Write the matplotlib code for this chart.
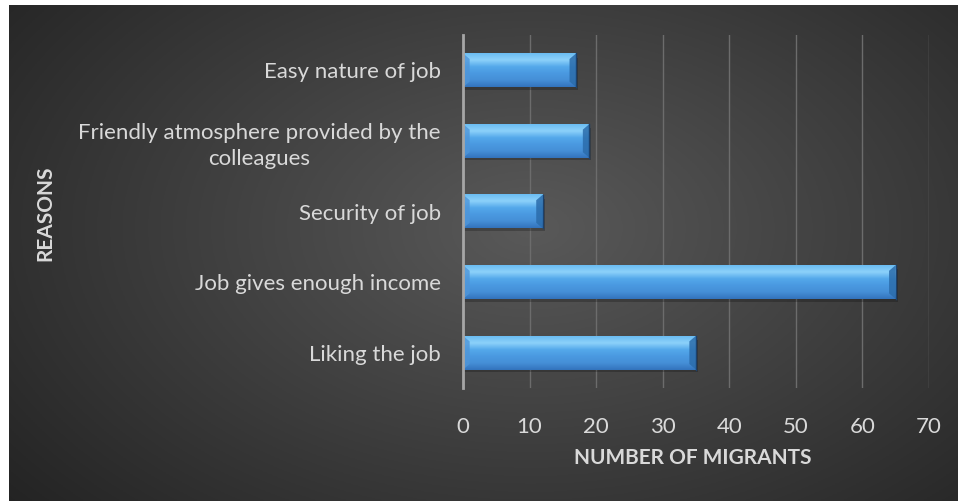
import numpy as np
import matplotlib
matplotlib.use("Agg")
import matplotlib.pyplot as plt
from matplotlib.patches import Polygon

plt.rcParams['font.family'] = ['Lato', 'DejaVu Sans']

reasons = ['Liking the job', 'Job gives enough income', 'Security of job',
           'Friendly atmosphere provided by the\ncolleagues', 'Easy nature of job']
migrants = [35, 65, 12, 19, 17]
x_ticks = [0, 10, 20, 30, 40, 50, 60, 70]

W, H = 958, 501
fig = plt.figure(figsize=(W / 100, H / 100), dpi=100)
fig.patch.set_facecolor('white')

# dark panel with a soft radial glow
bg = fig.add_axes([9 / W, 0, 1 - 9 / W, 1 - 5 / H])
gx, gy = np.meshgrid(np.linspace(0, 1, 400), np.linspace(0, 1, 220))
r = np.sqrt(((gx - 0.55) / 0.75) ** 2 + ((gy - 0.45) / 0.9) ** 2)
shade = np.clip(0.35 - 0.22 * r, 0.13, 0.35)
bg.imshow(np.dstack([shade] * 3), extent=(0, 1, 0, 1), aspect='auto', origin='upper')
bg.set_axis_off()

ax = fig.add_axes([463 / W, 1 - 388 / H, (929 - 463) / W, (388 - 35) / H])
ax.set_facecolor('none')
ax.patch.set_alpha(0)

ypos = np.arange(len(reasons))
bar_h = 0.48
bx, by = 1.0, 0.08
# vertical shading of the bar body, top row last (origin='lower')
stops = np.array([
    [0.20, 0.45, 0.74],
    [0.27, 0.56, 0.84],
    [0.29, 0.60, 0.88],
    [0.33, 0.66, 0.92],
    [0.55, 0.82, 0.98],
    [0.42, 0.74, 0.95],
])
t = np.linspace(0, 1, 80)
body = np.stack([np.interp(t, np.linspace(0, 1, len(stops)), stops[:, k]) for k in range(3)], axis=-1)
body = np.repeat(body[:, None, :], 2, axis=1)

for y, v in zip(ypos, migrants):
    y0, y1 = y - bar_h / 2, y + bar_h / 2
    # faint shadow below the bar
    ax.add_patch(Polygon([(0.2, y0 - 0.035), (v + 0.3, y0 - 0.035), (v + 0.3, y1 - 0.06), (0.2, y1 - 0.06)],
                         closed=True, facecolor='black', alpha=0.22, lw=0, zorder=2))
    ax.imshow(body, extent=(0, v, y0, y1), aspect='auto', origin='lower', zorder=3,
              interpolation='bilinear')
    # bevelled ends
    ax.add_patch(Polygon([(0, y0), (bx, y0 + by), (bx, y1 - by), (0, y1)],
                         closed=True, facecolor='#4f95d8', alpha=0.8, lw=0, zorder=4))
    ax.add_patch(Polygon([(v, y0), (v - bx, y0 + by), (v - bx, y1 - by), (v, y1)],
                         closed=True, facecolor='#2b6cab', alpha=0.85, lw=0, zorder=4))
    ax.plot([v, v], [y0, y1], color='#1c426e', lw=1, zorder=5)

ax.set_xlim(0, 70)
ax.set_ylim(-0.5, len(reasons) - 0.5)
ax.set_xticks(x_ticks)
ax.set_yticks(ypos)
ax.set_yticklabels(reasons)
for lbl in ax.get_yticklabels():
    lbl.set_multialignment('center')
    lbl.set_linespacing(1.4)

ax.grid(axis='x', color='#6c6c6c', lw=1, zorder=1)
ax.set_axisbelow(True)
for side in ['top', 'right', 'bottom']:
    ax.spines[side].set_visible(False)
ax.spines['left'].set_color('#a6a6a6')
ax.spines['left'].set_linewidth(2)
ax.spines['left'].set_zorder(6)
ax.tick_params(axis='both', length=0, colors='#d9d9d9', labelsize=16)
ax.tick_params(axis='x', pad=21)
ax.tick_params(axis='y', pad=16)

fig.text(693 / W, 1 - 458 / H, 'NUMBER OF MIGRANTS', ha='center', va='center',
         color='#d9d9d9', fontsize=15, fontweight='bold')
fig.text(45 / W, 1 - 213 / H, 'REASONS', ha='center', va='center', rotation=90,
         color='#d9d9d9', fontsize=15, fontweight='bold')

fig.savefig('out.png', dpi=100)
